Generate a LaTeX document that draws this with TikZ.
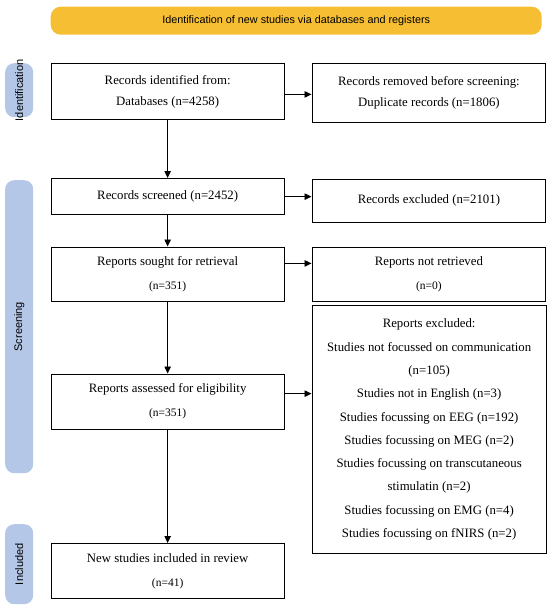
\documentclass[tikz,border=0pt]{standalone}
\usepackage{fontspec}
\setmainfont{Liberation Serif}
\newfontfamily\sansf{Liberation Sans}
\usetikzlibrary{arrows.meta}
\definecolor{pillblue}{RGB}{180,199,231}
\definecolor{bannerorange}{RGB}{246,190,50}
\newcommand{\smalln}{\fontsize{11.5}{13}\selectfont}
\begin{document}
\begin{tikzpicture}[x=1pt,y=-1pt,
  box/.style={draw, line width=1.3pt, inner sep=0pt, align=center, anchor=north west,
    minimum width=233pt, font=\fontsize{12.8}{23}\selectfont},
  pill/.style={fill=pillblue, rounded corners=9pt, anchor=north west, minimum width=28pt, inner sep=0pt},
  sidetext/.style={rotate=90, font=\sansf\fontsize{11}{13}\selectfont},
  arr/.style={line width=0.9pt, -{Triangle[length=7pt,width=6.5pt]}}]
\useasboundingbox (0,0) rectangle (550,610);
% banner
\node[fill=bannerorange, rounded corners=10pt, anchor=north west, minimum width=491pt,
  minimum height=28pt, inner sep=0pt, font=\sansf\fontsize{10.8}{12}\selectfont]
  (banner) at (50.5,6.5) {Identification of new studies via databases and registers};
% side pills
\node[pill, minimum height=54pt] (pid) at (5,63) {};
\node[sidetext] (tid) at (pid) {Identification};
\node[pill, minimum height=293pt] (psc) at (5,180) {};
\node[sidetext] (tsc) at (psc) {Screening};
\node[pill, minimum height=80pt] (pin) at (5,524) {};
\node[sidetext] (tin) at (pin) {Included};
% boxes
\node[box, minimum height=55.5pt, font=\fontsize{12.8}{21}\selectfont] (b1) at (50.5,63)
  {Records identified from:\\Databases (n=4258)};
\node[box, minimum width=233.5pt, minimum height=59pt, font=\fontsize{12.8}{21}\selectfont] (b2) at (311.5,63)
  {Records removed before screening:\\Duplicate records (n=1806)};
\node[box, minimum height=36pt] (b3) at (50.5,178) {Records screened (n=2452)};
\node[box, minimum width=233.5pt, minimum height=42.5pt] (b4) at (311.5,179) {Records excluded (n=2101)};
\node[box, minimum height=54.5pt] (b5) at (50.5,246.5)
  {Reports sought for retrieval\\[1pt]{\smalln (n=351)}};
\node[box, minimum width=233.5pt, minimum height=54.5pt] (b6) at (311.5,246.5)
  {Reports not retrieved\\[1pt]{\smalln (n=0)}};
\node[box, minimum height=55pt] (b7) at (50.5,373.5)
  {Reports assessed for eligibility\\[1pt]{\smalln (n=351)}};
\node[box, minimum width=234pt, minimum height=248pt, font=\fontsize{12.8}{23.3}\selectfont] (b8) at (311.5,305)
  {Reports excluded:\\Studies not focussed on communication\\(n=105)\\Studies not in English (n=3)\\
   Studies focussing on EEG (n=192)\\Studies focussing on MEG (n=2)\\Studies focussing on transcutaneous\\
   stimulatin (n=2)\\Studies focussing on EMG (n=4)\\Studies focussing on fNIRS (n=2)};
\node[box, minimum height=54.5pt] (b9) at (50.5,543)
  {New studies included in review\\[1pt]{\smalln (n=41)}};
% vertical arrows
\draw[arr] (b1.south) -- (b3.north);
\draw[arr] (b3.south) -- (b5.north);
\draw[arr] (b5.south) -- (b7.north);
\draw[arr] (b7.south) -- (b9.north);
% horizontal arrows
\draw[arr] ([yshift=-3pt]b1.east) -- ([yshift=-3pt]b1.east -| b2.west);
\draw[arr] (b3.east) -- (b3.east -| b4.west);
\draw[arr] ([yshift=11pt]b5.east) -- ([yshift=11pt]b5.east -| b6.west);
\draw[arr] ([yshift=8pt]b7.east) -- ([yshift=8pt]b7.east -| b8.west);
\end{tikzpicture}
\end{document}
